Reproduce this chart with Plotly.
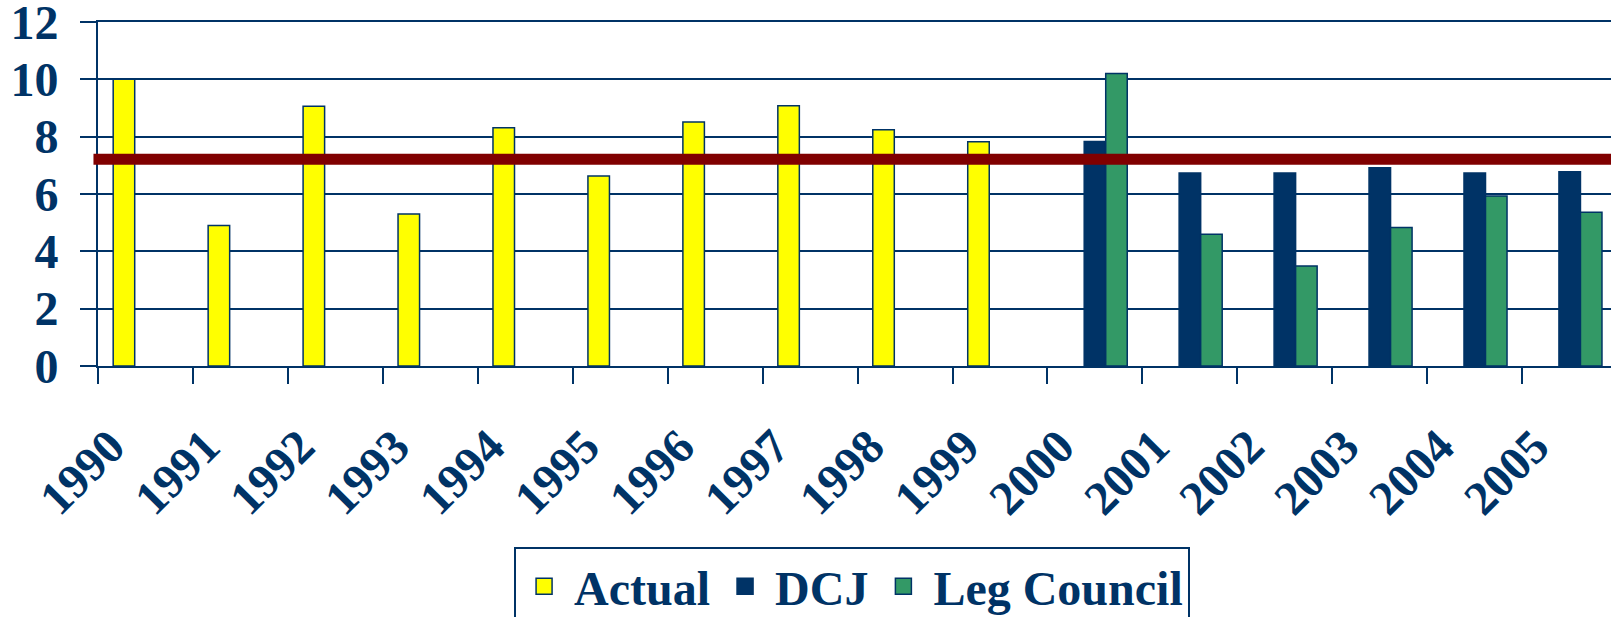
import plotly.graph_objects as go

years = [str(y) for y in range(1990, 2006)]
actual = [10.0, 4.9, 9.06, 5.3, 8.31, 6.63, 8.51, 9.08, 8.24, 7.82,
          None, None, None, None, None, None]
dcj = [None] * 10 + [7.83, 6.73, 6.73, 6.92, 6.73, 6.78]
leg_council = [None] * 10 + [10.2, 4.6, 3.49, 4.83, 5.93, 5.36]
target = 7.21

NAVY = "#003366"
FONT = "Liberation Serif"

series = [("Actual", actual, "#FFFF00"),
          ("DCJ", dcj, NAVY),
          ("Leg Council", leg_council, "#339966")]

fig = go.Figure()
for name, vals, color in series:
    fig.add_trace(go.Bar(name=name, x=years, y=vals, legendgroup=name, showlegend=False,
                         marker=dict(color=color, line=dict(color=NAVY, width=1.5))))
for name, vals, color in series:
    fig.add_trace(go.Scatter(name=name, x=[None], y=[None], mode="markers",
                             legendgroup=name, showlegend=True, hoverinfo="skip",
                             marker=dict(symbol="square", size=16, color=color,
                                         line=dict(color=NAVY, width=1.5))))

fig.add_shape(type="line", xref="paper", yref="y", x0=-0.003, x1=1,
              y0=target, y1=target, line=dict(color="#800000", width=11),
              layer="above")

fig.update_layout(
    width=1611, height=617,
    margin=dict(l=98, r=0, t=22, b=251, autoexpand=False),
    paper_bgcolor="white", plot_bgcolor="white",
    barmode="group", bargap=0.32, bargroupgap=0,
    font=dict(family=FONT, color=NAVY, size=46, weight="bold"),
    showlegend=True,
    legend=dict(orientation="h", x=0.275, xanchor="left", y=-0.525, yanchor="top",
                bordercolor=NAVY, borderwidth=2, bgcolor="white",
                font=dict(family=FONT, size=48, color=NAVY, weight="bold"),
                itemwidth=50, itemsizing="trace", tracegroupgap=0),
    xaxis=dict(type="category", range=[-0.5, 15.435], tickson="boundaries",
               ticks="outside", ticklen=16, tickwidth=2, tickcolor=NAVY,
               showline=True, linecolor=NAVY, linewidth=2, mirror=True, showgrid=False,
               automargin=False,
               tickangle=-45, ticklabelstandoff=31, ticklabelshift=-35,
               tickfont=dict(family=FONT, size=48, color=NAVY, weight="bold")),
    yaxis=dict(range=[0, 12], dtick=2, ticks="outside", ticklen=16, tickwidth=2,
               tickcolor=NAVY, showline=True, linecolor=NAVY, linewidth=2,
               showgrid=True, gridcolor=NAVY, gridwidth=2, zeroline=False,
               automargin=False, ticklabeloverflow="allow",
               ticklabelstandoff=12,
               tickfont=dict(family=FONT, size=48, color=NAVY, weight="bold")),
)

fig.write_html("out.html", config={"displayModeBar": False},
               post_script="document.body.style.margin='0';document.body.style.overflow='hidden';")
